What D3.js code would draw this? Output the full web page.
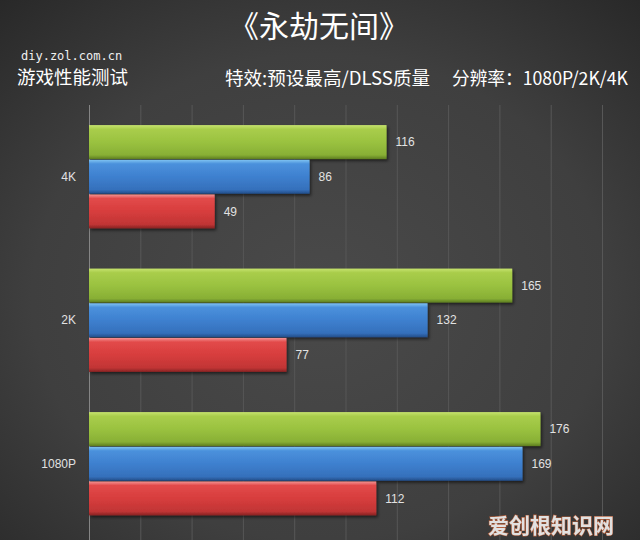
<!DOCTYPE html>
<html>
<head>
<meta charset="utf-8">
<script src="https://cdn.jsdelivr.net/npm/d3@7/dist/d3.min.js"></script>
<style>
  html, body { margin: 0; padding: 0; background: #3a3a3a; }
  svg { display: block; }
</style>
</head>
<body>
<svg id="chart" width="640" height="540"></svg>
<script>
// ---- data ----
const categories = ["4K", "2K", "1080P"];
const seriesNames = ["green", "blue", "red"];
const greenValues = [116, 165, 176];
const blueValues = [86, 132, 169];
const redValues = [49, 77, 112];
const xTicks = [0, 20, 40, 60, 80, 100, 120, 140, 160, 180, 200];
const titleText = "《永劫无间》";
const siteText = "diy.zol.com.cn";
const subText = "游戏性能测试";
const settingText = "特效:预设最高/DLSS质量";
const resText = "分辨率：1080P/2K/4K";
const watermark = "爱创根知识网";

const seriesValues = { green: greenValues, blue: blueValues, red: redValues };

const W = 640, H = 540;
const svg = d3.select("#chart");
const defs = svg.append("defs");

// background
const bg = defs.append("radialGradient").attr("id", "bg")
  .attr("cx", "50%").attr("cy", "55%").attr("r", "75%");
bg.append("stop").attr("offset", "0%").attr("stop-color", "#4a4a4a");
bg.append("stop").attr("offset", "60%").attr("stop-color", "#3f3f3f");
bg.append("stop").attr("offset", "100%").attr("stop-color", "#282828");
svg.append("rect").attr("width", W).attr("height", H).attr("fill", "url(#bg)");

// bar gradients
const gradStops = {
  green: ["#c6e36e", "#a9cd4b", "#9ac240", "#88af35", "#5d7d20"],
  blue:  ["#80c4f2", "#4b91dc", "#3e80cf", "#3570bb", "#234d88"],
  red:   ["#f49494", "#e24a4a", "#d73d3d", "#c13535", "#872222"]
};
const offs = ["0%", "12%", "50%", "88%", "100%"];
seriesNames.forEach(s => {
  const g = defs.append("linearGradient").attr("id", "g-" + s)
    .attr("x1", 0).attr("y1", 0).attr("x2", 0).attr("y2", 1);
  gradStops[s].forEach((c, i) => g.append("stop").attr("offset", offs[i]).attr("stop-color", c));
});
const f = defs.append("filter").attr("id", "shadow")
  .attr("x", "-5%").attr("y", "-20%").attr("width", "115%").attr("height", "150%");
f.append("feDropShadow").attr("dx", 1.5).attr("dy", 2).attr("stdDeviation", 1.5)
  .attr("flood-color", "#000").attr("flood-opacity", 0.55);

// scales
const x = d3.scaleLinear().domain([0, 200]).range([89, 602]);
const y = d3.scaleBand().domain(categories).range([105, 535.5])
  .paddingInner(0.28).paddingOuter(0.14);
const ySub = d3.scaleBand().domain(seriesNames).range([0, y.bandwidth()]).paddingInner(0.02);

// gridlines
const grid = svg.append("g").attr("transform", "translate(0,105)")
  .call(d3.axisBottom(x).tickValues(xTicks).tickSize(435).tickFormat(""));
grid.select(".domain").remove();
grid.selectAll(".tick line").attr("stroke", "#575757").attr("stroke-width", 1);
grid.selectAll(".tick").filter(d => d === 0).select("line").attr("stroke", "#858585");

// category axis
const yAxis = svg.append("g").attr("transform", "translate(89,0)")
  .call(d3.axisLeft(y).tickSize(0).tickPadding(13));
yAxis.select(".domain").remove();
yAxis.selectAll("text").attr("fill", "#e2e2e2")
  .style("font-family", "'Liberation Sans', Arial, sans-serif").style("font-size", "12px");

// bars
const groups = svg.append("g").selectAll("g").data(categories).join("g")
  .attr("transform", d => `translate(0,${y(d)})`);
seriesNames.forEach(s => {
  groups.append("rect")
    .attr("x", x(0))
    .attr("y", ySub(s))
    .attr("width", (d, i) => x(seriesValues[s][i]) - x(0))
    .attr("height", ySub.bandwidth())
    .attr("fill", "url(#g-" + s + ")")
    .attr("filter", "url(#shadow)");
  groups.append("text")
    .attr("x", (d, i) => x(seriesValues[s][i]) + 9)
    .attr("y", ySub(s) + ySub.bandwidth() / 2)
    .attr("dy", "0.35em")
    .attr("fill", "#e2e2e2")
    .style("font-family", "'Liberation Sans', Arial, sans-serif")
    .style("font-size", "12px")
    .text((d, i) => seriesValues[s][i]);
});

// titles
const cjk = "'Noto Sans CJK SC', 'Noto Sans', sans-serif";
svg.append("text").attr("x", 319).attr("y", 37).attr("text-anchor", "middle")
  .attr("fill", "#ffffff").style("font-family", cjk).style("font-size", "30px")
  .text(titleText);
svg.append("text").attr("x", 21).attr("y", 60).attr("fill", "#f0f0f0")
  .style("font-family", "'DejaVu Sans Mono', monospace").style("font-size", "12px")
  .text(siteText);
svg.append("text").attr("x", 17).attr("y", 84).attr("fill", "#ffffff")
  .style("font-family", cjk).style("font-size", "18.5px")
  .text(subText);
svg.append("text").attr("x", 225).attr("y", 85).attr("fill", "#ffffff")
  .attr("textLength", 205).attr("lengthAdjust", "spacingAndGlyphs")
  .style("font-family", cjk).style("font-size", "18px")
  .text(settingText);
svg.append("text").attr("x", 452).attr("y", 85).attr("fill", "#ffffff")
  .attr("textLength", 176).attr("lengthAdjust", "spacingAndGlyphs")
  .style("font-family", cjk).style("font-size", "18px")
  .text(resText);

// watermark
svg.append("text").attr("x", 614).attr("y", 533).attr("text-anchor", "end")
  .attr("fill", "#ffffff").attr("stroke", "#c8643a").attr("stroke-width", 1.2)
  .attr("paint-order", "stroke").attr("opacity", 0.85)
  .style("font-family", cjk).style("font-size", "21px").style("font-weight", "bold")
  .text(watermark);
</script>
</body>
</html>
